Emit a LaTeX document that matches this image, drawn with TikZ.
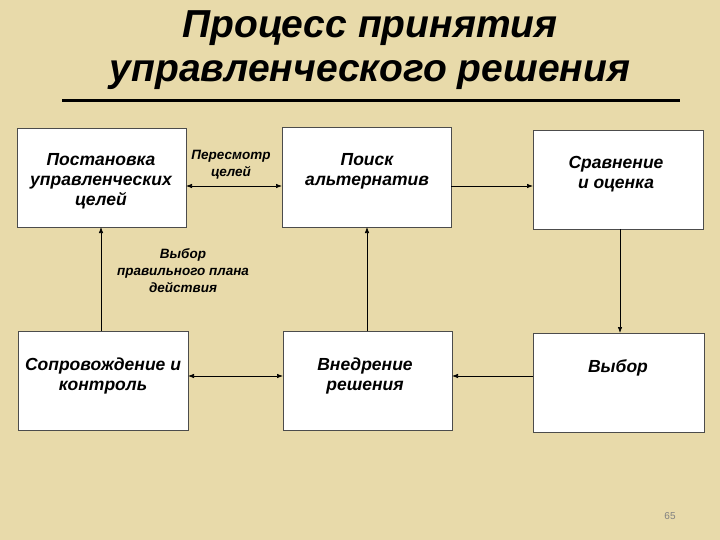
\documentclass[tikz,border=0pt]{standalone}
\usepackage{fontspec}
\setmainfont{Liberation Sans}
\usetikzlibrary{arrows.meta}
\begin{document}
\begin{tikzpicture}[x=1pt,y=-1pt,
 box/.style={draw=black!70,fill=white,line width=0.8pt},
 btxt/.style={font=\bfseries\itshape\fontsize{17.5}{20}\selectfont,align=center,anchor=north},
 stxt/.style={font=\bfseries\itshape\fontsize{13.5}{17}\selectfont,align=center},
 arr/.style={-{Latex[length=6pt,width=4.5pt]},line width=0.7pt},
 darr/.style={{Latex[length=6pt,width=4.5pt]}-{Latex[length=6pt,width=4.5pt]},line width=0.7pt}]
\fill[fill={rgb,255:red,232;green,218;blue,170}] (0,0) rectangle (720,540);
\useasboundingbox (0,0) rectangle (720,540);
\node[font=\bfseries\itshape\fontsize{39}{44}\selectfont,align=center] (title) at (370,50) {Процесс принятия\\управленческого решения};
\draw[line width=3pt] (62,101) -- (680,101);
\node[box,minimum width=169,minimum height=99,anchor=north west] (b1) at (17,128) {};
\node[box,minimum width=169,minimum height=100,anchor=north west] (b2) at (282,127) {};
\node[box,minimum width=170,minimum height=99,anchor=north west] (b3) at (533,130) {};
\node[box,minimum width=170,minimum height=99,anchor=north west] (b4) at (18,331) {};
\node[box,minimum width=169,minimum height=99,anchor=north west] (b5) at (283,331) {};
\node[box,minimum width=171,minimum height=99,anchor=north west] (b6) at (533,333) {};
\node[btxt] (t1) at (101,150) {Постановка\\управленческих\\целей};
\node[btxt] (t2) at (367,150) {Поиск\\альтернатив};
\node[btxt] (t3) at (616,153) {Сравнение\\и оценка};
\node[btxt] (t4) at (103,354) {Сопровождение и\\контроль};
\node[btxt] (t5) at (365,354) {Внедрение\\решения};
\node[btxt] (t6) at (618,356) {Выбор};
\coordinate (a1) at (186,186); \coordinate (a2) at (282,186);
\draw[darr] (a1) -- (a2);
\node[stxt] (l1) at (231,165) {Пересмотр\\целей};
\draw[arr] (451,186) -- (533,186);
\draw[arr] (620,229) -- (620,333);
\draw[arr] (533,376) -- (452,376);
\draw[darr] (188,376) -- (283,376);
\draw[arr] (367,331) -- (367,227);
\draw[arr] (101,331) -- (101,227);
\node[stxt] (l2) at (183,271) {Выбор\\правильного плана\\действия};
\node[font=\fontsize{10}{12}\selectfont,text=black!50] (pg) at (670,516) {65};
\end{tikzpicture}
\end{document}
